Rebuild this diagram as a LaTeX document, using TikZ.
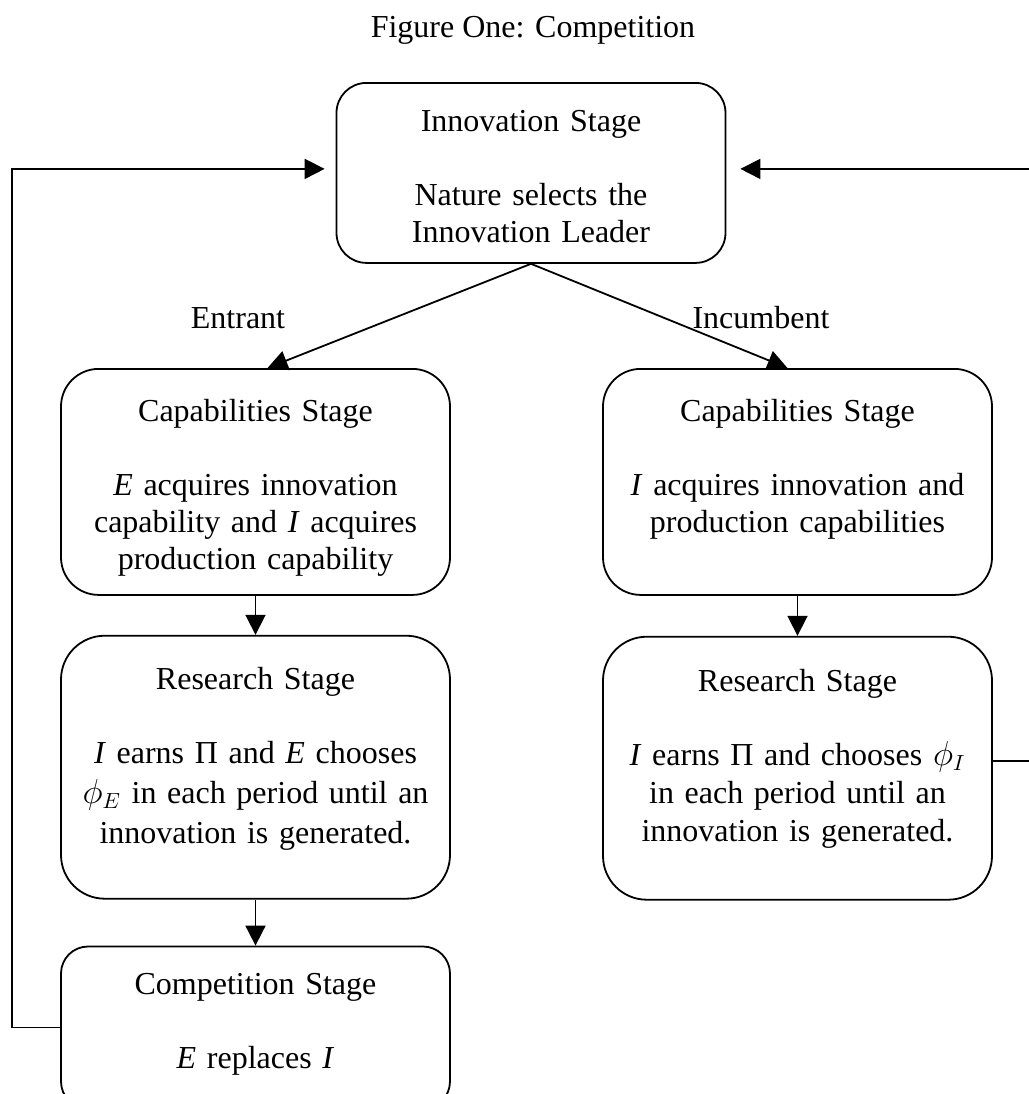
\documentclass[tikz,border=0pt]{standalone}
\usepackage{fontspec}
\setmainfont{Liberation Serif}
\usepackage{tikz}
\usetikzlibrary{positioning}
\usetikzlibrary{arrows.meta}
\tikzset{
    stage/.style={draw, line width=0.9pt, rounded corners=18.8pt, anchor=north,%
    text width=194.5pt, align=center, inner xsep=0pt, inner ysep=0pt,%
    text height=26.25pt},
    flow/.style={line width=0.9pt, -{Triangle[length=10pt,width=10pt]}},
    tag/.style={anchor=base},
}

\begin{document}
\begin{tikzpicture}[x=0.5pt, y=-0.5pt, font=\fontsize{16pt}{18.5pt}\selectfont]
    \useasboundingbox (0,0) rectangle (1029,1094);
    \node[tag] (title) at (533,37) {Figure One: Competition};
    % stages
    \node[stage, rounded corners=15pt, text height=24.25pt, text depth=65.75pt] (innov) at (531,82)
        {Innovation Stage\\[18.5pt]Nature selects the\\Innovation Leader};
    \node[stage, text depth=86.75pt] (capE) at (255.5,368)
        {Capabilities Stage\\[18.5pt]\textit{E} acquires innovation\\capability and \textit{I} acquires\\production capability};
    \node[stage, text depth=86.75pt] (capI) at (797.5,368)
        {Capabilities Stage\\[18.5pt]\textit{I} acquires innovation and\\production capabilities};
    \node[stage, rounded corners=21.9pt, below=19.5pt of capE, text height=27pt, text depth=104.5pt] (resE)
        {Research Stage\\[18.5pt]\textit{I} earns Π and \textit{E} chooses\\[1.5pt]$\phi_E$ in each period until an\\[1.5pt]innovation is generated.};
    \node[stage, rounded corners=21.9pt, below=20pt of capI, text height=27.25pt, text depth=104.25pt] (resI)
        {Research Stage\\[18.5pt]\textit{I} earns Π and chooses $\phi_I$\\[0.5pt]in each period until an\\[0.5pt]innovation is generated.};
    \node[stage, rounded corners=13.5pt, below=23pt of resE, text height=24pt, text depth=57pt] (compE)
        {Competition Stage\\[18.5pt]\textit{E} replaces \textit{I}};
    % branch labels
    \node[tag] (entrant) at (238,328) {Entrant};
    \node[tag] (incumb) at (761,328) {Incumbent};
    \coordinate (backE) at (12,600);
    \coordinate (backI) at (1036,600);
    % arrows
    \draw[flow] (innov.south) -- ([xshift=6pt]capE.north);
    \draw[flow] (innov.south) -- ([xshift=-5pt]capI.north);
    \draw[flow] (capE.south) -- (resE.north);
    \draw[flow] (capI.south) -- (resI.north);
    \draw[flow] (resE.south) -- (compE.north);
    \draw[flow, shorten >=5.5pt] (compE.west) -| (backE) |- ([yshift=2pt]innov.west);
    \draw[flow, shorten >=7pt] ([yshift=3.75pt]resI.east) -| (backI) |- ([yshift=2pt]innov.east);
\end{tikzpicture}
\end{document}
